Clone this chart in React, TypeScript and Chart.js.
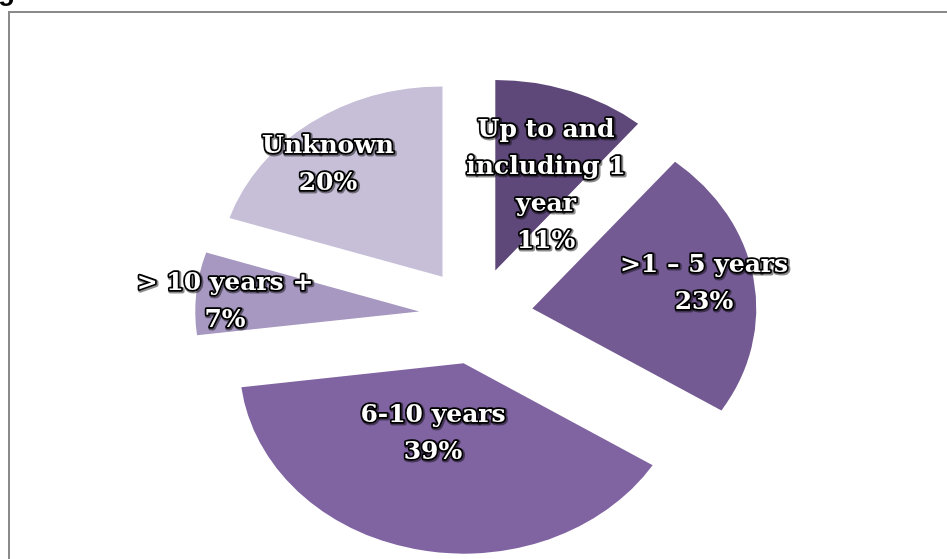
import React, { useEffect, useRef } from "react";
import { Chart, registerables } from "chart.js";

Chart.register(...registerables);

// ---- data ----
const categories: string[] = [
  "Up to and\nincluding 1\nyear",
  ">1 – 5 years",
  "6-10 years",
  "> 10 years +",
  "Unknown",
];
const percentages: number[] = [11, 23, 39, 7, 20];
const sliceColors: string[] = ["#5e4879", "#735a92", "#8064a2", "#a698c0", "#c7bfd8"];

// ---- layout / style constants (not data) ----
const SQUASH = 0.85; // vertical flattening of the pie
const EXPLODE = 57; // explosion distance of each slice
const LABEL_OFFSETS: [number, number][] = [
  [70, -130],
  [228, -32],
  [-43, 118],
  [-251, -14],
  [-148, -151],
];
const LABEL_FONT = "bold 25px 'DejaVu Serif'";
const LINE_H = 37;

export default function App() {
  const canvasRef = useRef<HTMLCanvasElement | null>(null);

  useEffect(() => {
    const canvas = canvasRef.current;
    if (!canvas) return;

    const framePlugin = {
      id: "frame",
      beforeDraw(chart: any) {
        const ctx = chart.ctx as CanvasRenderingContext2D;
        ctx.save();
        ctx.fillStyle = "#ffffff";
        ctx.fillRect(0, 0, chart.width, chart.height);
        ctx.strokeStyle = "#8a8a8a";
        ctx.lineWidth = 2;
        ctx.strokeRect(9, 12, 1000, 1000);
        ctx.fillStyle = "#000000";
        ctx.font = "bold 28px 'Liberation Sans'";
        ctx.textBaseline = "alphabetic";
        ctx.fillText("g", -2, 0);
        ctx.restore();
      },
    };

    const explodedPiePlugin = {
      id: "explodedPie",
      beforeDatasetDraw(chart: any, args: any) {
        const ctx = chart.ctx as CanvasRenderingContext2D;
        const meta = args.meta;
        meta.data.forEach((arc: any) => {
          const { x, y, startAngle, endAngle } = arc.getProps(["x", "y", "startAngle", "endAngle"]);
          const half = (startAngle + endAngle) / 2;
          ctx.save();
          ctx.translate(x, y);
          ctx.scale(1, SQUASH);
          ctx.translate(-x, -y);
          ctx.translate(Math.cos(half) * EXPLODE, Math.sin(half) * EXPLODE);
          arc.draw(ctx);
          ctx.restore();
        });
        return false;
      },
      afterDatasetsDraw(chart: any) {
        const ctx = chart.ctx as CanvasRenderingContext2D;
        const meta = chart.getDatasetMeta(0);
        const values = chart.data.datasets[0].data as number[];
        meta.data.forEach((arc: any, i: number) => {
          const { x, y } = arc.getProps(["x", "y"]);
          const lines = [...String(chart.data.labels[i]).split("\n"), values[i] + "%"];
          const cx = x + LABEL_OFFSETS[i][0];
          const cy = y + LABEL_OFFSETS[i][1];
          const top = cy - ((lines.length - 1) * LINE_H) / 2;
          ctx.save();
          ctx.font = LABEL_FONT;
          ctx.textAlign = "center";
          ctx.textBaseline = "middle";
          ctx.lineJoin = "round";
          lines.forEach((ln, k) => {
            const ly = top + k * LINE_H;
            ctx.strokeStyle = "rgba(0,0,0,0.45)";
            ctx.lineWidth = 5;
            ctx.strokeText(ln, cx + 1, ly + 1);
            ctx.strokeStyle = "#000000";
            ctx.lineWidth = 3.5;
            ctx.strokeText(ln, cx, ly);
            ctx.fillStyle = "#ffffff";
            ctx.fillText(ln, cx, ly);
          });
          ctx.restore();
        });
      },
    };

    const chart = new Chart(canvas, {
      type: "pie",
      data: {
        labels: categories,
        datasets: [
          {
            data: percentages,
            backgroundColor: sliceColors,
            borderWidth: 0,
            radius: 224,
          } as any,
        ],
      },
      options: {
        responsive: false,
        animation: false,
        devicePixelRatio: 1,
        layout: { padding: { left: 5, right: 0, top: 73, bottom: 0 } },
        plugins: {
          legend: { display: false },
          tooltip: { enabled: false },
          title: { display: false },
        },
        events: [],
      },
      plugins: [framePlugin, explodedPiePlugin],
    });

    return () => chart.destroy();
  }, []);

  return (
    <div style={{ position: "fixed", left: 0, top: 0, width: 947, height: 559, background: "#fff" }}>
      <canvas ref={canvasRef} width={947} height={559} style={{ display: "block" }} />
    </div>
  );
}
